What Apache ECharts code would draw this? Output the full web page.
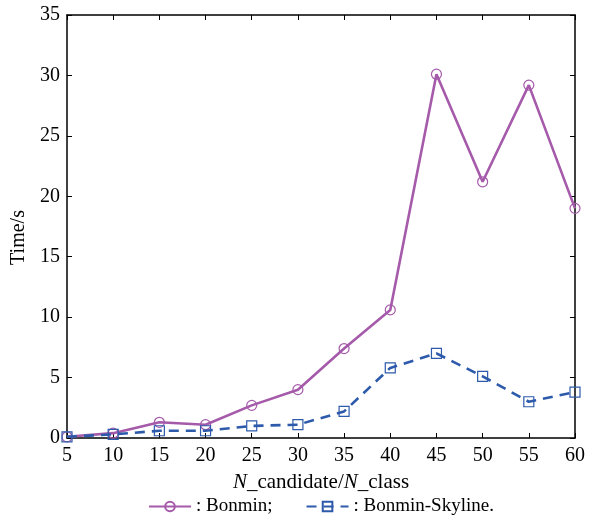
<!DOCTYPE html>
<html>
<head>
<meta charset="utf-8">
<script src="https://cdn.jsdelivr.net/npm/echarts@6/dist/echarts.min.js"></script>
<style>
  html, body { margin: 0; padding: 0; background: #fff; }
  #chart { width: 599px; height: 521px; }
</style>
</head>
<body>
<div id="chart"></div>
<script>
// 横轴：候选数/类别数
var ratio = [5, 10, 15, 20, 25, 30, 35, 40, 45, 50, 55, 60]
// 耗时 (s)
var bonmin = [0.1, 0.4, 1.3, 1.1, 2.7, 4.0, 7.4, 10.6, 30.1, 21.2, 29.2, 19.0]
var skyline = [0.1, 0.3, 0.6, 0.6, 1.0, 1.1, 2.2, 5.8, 7.0, 5.1, 3.0, 3.8]
var seriesNames = ['Bonmin', 'Bonmin-Skyline']
var legendText = { 'Bonmin': ': Bonmin;', 'Bonmin-Skyline': ': Bonmin-Skyline.' }

const purple = '#a55aaa'
const blue = '#2d5aab'
const font = 'Liberation Serif, Times New Roman, serif'

function pairs(xs, ys) {
  return xs.map(function (x, i) { return [x, ys[i]] })
}

const axisLine = { show: true, onZero: false, lineStyle: { color: '#000', width: 1.5 } }
const tick = { show: true, inside: true, length: 5, lineStyle: { color: '#000', width: 1 } }
const label = { color: '#000', fontFamily: font, fontSize: 20 }

const option = {
  animation: false,
  textStyle: { fontFamily: font },
  grid: { left: 67, right: 24, top: 15, bottom: 83 },
  legend: {
    bottom: 0,
    left: 143,
    itemWidth: 42,
    itemHeight: 12,
    itemGap: 33,
    textStyle: { color: '#000', fontFamily: font, fontSize: 19 },
    formatter: function (name) { return legendText[name] },
    data: seriesNames
  },
  xAxis: [
    {
      type: 'value',
      min: 5,
      max: 60,
      interval: 5,
      axisLine: axisLine,
      axisTick: tick,
      splitLine: { show: false },
      axisLabel: Object.assign({ margin: 8 }, label),
      name: '{i|N}_candidate/{i|N}_class',
      nameLocation: 'middle',
      nameGap: 34,
      nameTextStyle: {
        color: '#000',
        fontFamily: font,
        fontSize: 21,
        rich: {
          i: { fontStyle: 'italic', fontFamily: font, fontSize: 21, color: '#000' }
        }
      }
    },
    {
      type: 'value',
      position: 'top',
      min: 5,
      max: 60,
      interval: 5,
      axisLine: axisLine,
      axisTick: tick,
      axisLabel: { show: false },
      splitLine: { show: false }
    }
  ],
  yAxis: [
    {
      type: 'value',
      min: 0,
      max: 35,
      interval: 5,
      axisLine: axisLine,
      axisTick: tick,
      splitLine: { show: false },
      axisLabel: Object.assign({ margin: 7 }, label),
      name: 'Time/s',
      nameLocation: 'middle',
      nameGap: 36,
      nameTextStyle: { color: '#000', fontFamily: font, fontSize: 20, padding: [0, 22, 0, 0] }
    },
    {
      type: 'value',
      position: 'right',
      min: 0,
      max: 35,
      interval: 5,
      axisLine: axisLine,
      axisTick: tick,
      axisLabel: { show: false },
      splitLine: { show: false }
    }
  ],
  series: [
    {
      name: seriesNames[0],
      type: 'line',
      data: pairs(ratio, bonmin),
      symbol: 'circle',
      symbolSize: 10,
      color: purple,
      lineStyle: { color: purple, width: 2.6 },
      itemStyle: { color: 'rgba(255,255,255,0)', borderColor: purple, borderWidth: 1.2 },
      z: 3
    },
    {
      name: seriesNames[1],
      type: 'line',
      data: pairs(ratio, skyline),
      symbol: 'rect',
      symbolSize: 10,
      color: blue,
      lineStyle: { color: blue, width: 2.6, type: [10, 7] },
      itemStyle: { color: 'rgba(255,255,255,0)', borderColor: blue, borderWidth: 1.2 },
      z: 4
    }
  ]
}

const chart = echarts.init(document.getElementById('chart'))
chart.setOption(option)
</script>
</body>
</html>
